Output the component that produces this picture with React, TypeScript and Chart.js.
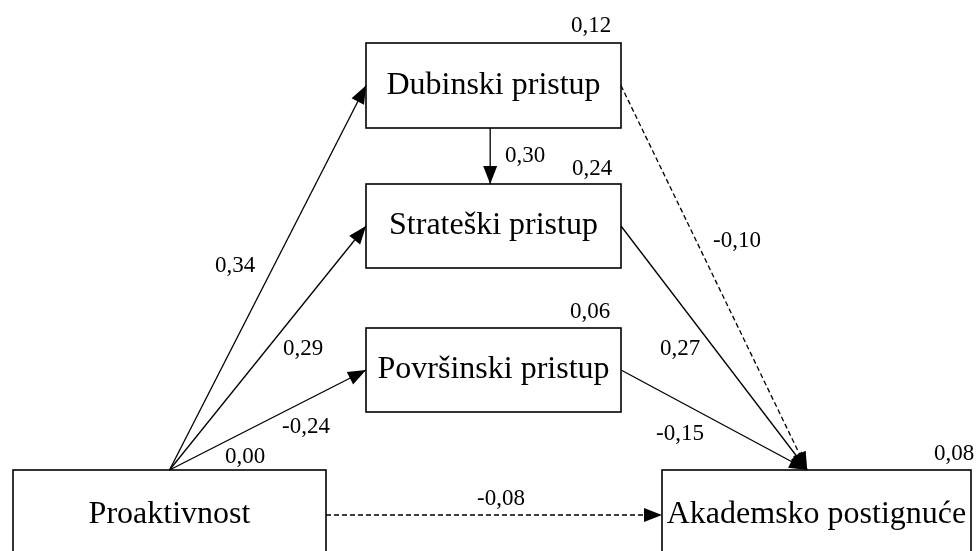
import React, { useEffect, useRef } from "react";
import { Chart, registerables } from "chart.js";

Chart.register(...registerables);

// ---------- data ----------
const nodeNames = [
  "Proaktivnost",
  "Dubinski pristup",
  "Strateški pristup",
  "Površinski pristup",
  "Akademsko postignuće",
];
const nodeR2 = ["0,00", "0,12", "0,24", "0,06", "0,08"];

const pathFrom = [0, 0, 0, 1, 1, 2, 3, 0];
const pathTo = [1, 2, 3, 2, 4, 4, 4, 4];
const pathCoef = ["0,34", "0,29", "-0,24", "0,30", "-0,10", "0,27", "-0,15", "-0,08"];
const pathDashed = [false, false, false, false, true, false, false, true];

// ---------- layout (chart units; axes span the canvas) ----------
const W = 979;
const H = 551;
// left, top, right, bottom
const nodeBox = [
  [13, 470, 326, 560],
  [366, 43, 621, 128],
  [366, 184, 621, 268],
  [366, 328, 621, 412],
  [662, 470, 971, 560],
];
const pathFromSide = ["top", "top", "top", "bottom", "right", "right", "right", "right"];
const pathToSide = ["left", "left", "left", "top", "top", "top", "top", "left"];
const pathFromFrac = [0.5, 0.5, 0.5, 0.487, 0.5, 0.5, 0.5, 0.5];
const pathToFrac = [0.5, 0.5, 0.5, 0.487, 0.47, 0.47, 0.47, 0.5];
// label left x, baseline y
const coefPos = [
  [215, 272],
  [283, 355],
  [282, 433],
  [505, 162],
  [713, 247],
  [660, 355],
  [656, 440],
  [477, 505],
];
const r2Pos = [
  [225, 463],
  [571, 32],
  [572, 175],
  [570, 318],
  [934, 460],
];

const SERIF = '"Liberation Serif", "Times New Roman", Times, serif';

function anchor(i: number, side: string, frac: number) {
  const [l, t, r, b] = nodeBox[i];
  if (side === "top") return { x: l + (r - l) * frac, y: t };
  if (side === "bottom") return { x: l + (r - l) * frac, y: b };
  if (side === "left") return { x: l, y: t + (b - t) * frac };
  return { x: r, y: t + (b - t) * frac };
}

const diagramPlugin = {
  id: "pathDiagram",
  afterDatasetsDraw(chart: any) {
    const ctx = chart.ctx;
    const xs = chart.scales.x;
    const ys = chart.scales.y;
    ctx.save();
    // boxes
    ctx.strokeStyle = "#000";
    ctx.lineWidth = 1.6;
    nodeBox.forEach((bx, i) => {
      const x0 = xs.getPixelForValue(bx[0]);
      const x1 = xs.getPixelForValue(bx[2]);
      const y0 = ys.getPixelForValue(bx[1]);
      const y1 = ys.getPixelForValue(bx[3]);
      ctx.strokeRect(x0, y0, x1 - x0, y1 - y0);
      ctx.fillStyle = "#000";
      ctx.font = `32px ${SERIF}`;
      ctx.textAlign = "center";
      ctx.textBaseline = "alphabetic";
      ctx.fillText(nodeNames[i], (x0 + x1) / 2, (y0 + y1) / 2 + 8);
      ctx.font = `23px ${SERIF}`;
      ctx.textAlign = "left";
      ctx.fillText(
        nodeR2[i],
        xs.getPixelForValue(r2Pos[i][0]),
        ys.getPixelForValue(r2Pos[i][1])
      );
    });
    // arrowheads + coefficients
    pathCoef.forEach((c, i) => {
      const meta = chart.getDatasetMeta(i);
      const p0 = meta.data[0];
      const p1 = meta.data[1];
      const ang = Math.atan2(p1.y - p0.y, p1.x - p0.x);
      const len = 18;
      const hw = 7;
      ctx.beginPath();
      ctx.moveTo(p1.x, p1.y);
      ctx.lineTo(
        p1.x - len * Math.cos(ang) + hw * Math.sin(ang),
        p1.y - len * Math.sin(ang) - hw * Math.cos(ang)
      );
      ctx.lineTo(
        p1.x - len * Math.cos(ang) - hw * Math.sin(ang),
        p1.y - len * Math.sin(ang) + hw * Math.cos(ang)
      );
      ctx.closePath();
      ctx.fillStyle = "#000";
      ctx.fill();
      ctx.font = `23px ${SERIF}`;
      ctx.textAlign = "left";
      ctx.textBaseline = "alphabetic";
      ctx.fillText(
        c,
        xs.getPixelForValue(coefPos[i][0]),
        ys.getPixelForValue(coefPos[i][1])
      );
    });
    ctx.restore();
  },
};

export default function App() {
  const ref = useRef<HTMLCanvasElement | null>(null);
  useEffect(() => {
    if (!ref.current) return;
    const datasets = pathFrom.map((f, i) => ({
      label: pathCoef[i],
      data: [
        anchor(f, pathFromSide[i], pathFromFrac[i]),
        anchor(pathTo[i], pathToSide[i], pathToFrac[i]),
      ],
      showLine: true,
      borderColor: "#000",
      borderWidth: 1.3,
      borderDash: pathDashed[i] ? [5, 3] : [],
      pointRadius: 0,
      fill: false,
    }));
    const chart = new Chart(ref.current, {
      type: "scatter",
      data: { datasets },
      options: {
        animation: false,
        responsive: false,
        maintainAspectRatio: false,
        devicePixelRatio: 1,
        layout: { padding: 0 },
        scales: {
          x: { type: "linear", min: 0, max: W, display: false },
          y: { type: "linear", min: 0, max: H, reverse: true, display: false },
        },
        plugins: { legend: { display: false }, tooltip: { enabled: false } },
        events: [],
      },
      plugins: [diagramPlugin],
    } as any);
    return () => chart.destroy();
  }, []);
  return (
    <div style={{ position: "absolute", left: 0, top: 0, width: W, height: H, background: "#fff" }}>
      <canvas ref={ref} width={W} height={H} style={{ width: W, height: H, display: "block" }} />
    </div>
  );
}
